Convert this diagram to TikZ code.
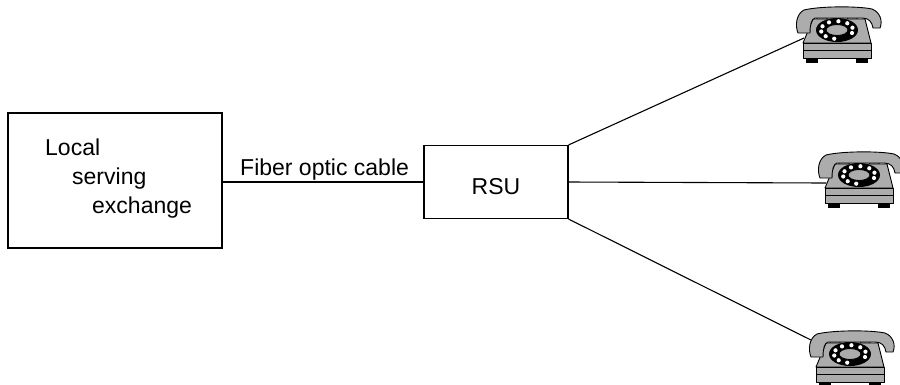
\documentclass[tikz,border=0pt]{standalone}
\usepackage{fontspec}
\setmainfont{Liberation Sans}
\definecolor{phonegray}{RGB}{172,172,172}
\tikzset{
  box/.style={draw, line width=1.1pt, inner sep=0pt},
  lbl/.style={inner sep=0pt, font=\fontsize{23}{28}\selectfont},
  wire/.style={line width=1.1pt},
  phonepart/.style={draw, fill=phonegray, line width=0.9pt, line join=round},
  phone/.pic={
    % cradle prongs
    \draw[phonepart] (20,14) -- (23,6) -- (29,6) -- (32,14) -- cycle;
    \draw[phonepart] (51,14) -- (53,6) -- (59,6) -- (62,14) -- cycle;
    % upper body
    \draw[phonepart] (17,12) -- (69,12) -- (75,36) -- (7,36) -- cycle;
    % base band and feet
    \draw[phonepart] (7,36) rectangle (75,51);
    \draw[line width=0.9pt] (7,43) -- (75,43);
    \fill (10,51) rectangle (22,56);
    \fill (60,51) rectangle (72,56);
    % handset
    \draw[phonepart] (2,26) .. controls (-1,19) and (0,7) .. (8,3)
      .. controls (24,-1) and (62,-1) .. (76,2)
      .. controls (84,5) and (87,14) .. (84,21) -- (77,21)
      .. controls (76,15) and (73,11) .. (66,11) -- (19,11)
      .. controls (15,12) and (14,19) .. (14,26) -- cycle;
    % rotary dial
    \fill (41,23) ellipse [x radius=21, y radius=12];
    \foreach \a in {100,135,170,205,240,275,310,345,20}
      \fill[white] (41,23) ++(\a:16 and 8.8) circle [radius=2.1];
    \draw[phonepart] (41,23) ellipse [x radius=11, y radius=5.5];
    % connection points
    \coordinate (-body) at (8,31);
    \coordinate (-hs) at (2,9);
  }
}
\begin{document}
\begin{tikzpicture}[x=1pt, y=-1pt]
\useasboundingbox (0,0) rectangle (900,384);

% exchange box and its label
\node[box, minimum width=214pt, minimum height=135pt] (lse) at (115,180.5) {};
\node[lbl, anchor=base west] (t1) at (45,155) {Local};
\node[lbl, anchor=base west] (t2) at (72,184) {serving};
\node[lbl, anchor=base west] (t3) at (92,213) {exchange};

% remote switching unit
\node[box, minimum width=144pt, minimum height=73pt] (rsu) at (496,182) {};
\node[lbl, anchor=base] (rsut) at (496,194) {RSU};

% fiber link
\draw[wire] (lse.east |- rsu.west) -- (rsu.west);
\node[lbl, anchor=base west] (fib) at (240,175) {Fiber optic cable};

% subscriber telephones
\pic (p1) at (796,7) {phone};
\pic (p2) at (818,152) {phone};
\pic (p3) at (809,331) {phone};

% subscriber lines
\draw[wire] (rsu.north east) -- (p1-body);
\draw[wire] (rsu.east) -- (p2-body);
\draw[wire] (rsu.south east) -- (p3-hs);
\end{tikzpicture}
\end{document}
